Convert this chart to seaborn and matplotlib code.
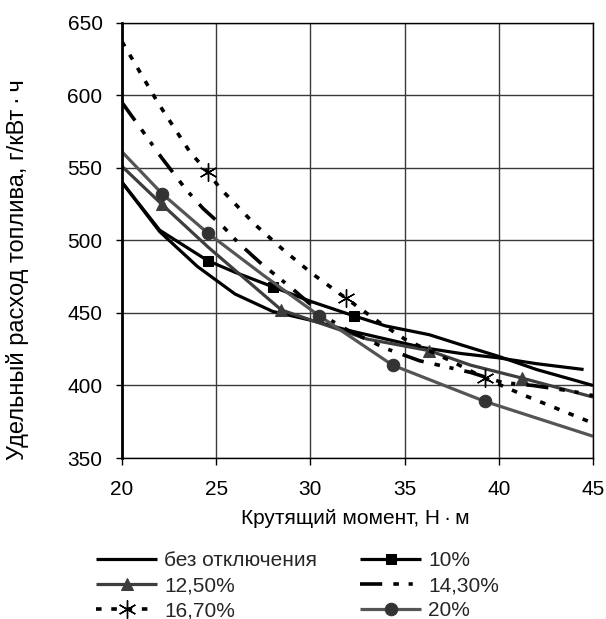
import numpy as np
import pandas as pd
import matplotlib
matplotlib.use("Agg")
import matplotlib.pyplot as plt
import seaborn as sns

# ---- data ----
base_x = [20, 22, 24, 26, 28, 30, 32, 34, 36, 38, 40, 42, 44.5]
base_y = [540, 506, 482, 463, 451, 445, 438, 432, 426, 422, 419, 415, 411]

p10_x = [20, 22, 24.55, 26, 28, 30, 32.3, 34, 36.3, 38, 40, 42, 45]
p10_y = [540, 507, 486, 478, 468, 458, 448, 441, 435, 428, 420, 411, 400]
p10_mk = [24.55, 28, 32.3]

p125_x = [20, 22.1, 24.6, 28.46, 30.5, 33, 36.3, 38.5, 41.25, 45]
p125_y = [551, 525, 495, 452, 443, 432, 424, 414, 405, 392]
p125_mk = [22.1, 28.46, 36.3, 41.25]

p143_x = [20, 21, 22.1, 23.4, 24.3, 25.4, 26.2, 27.3, 29.1, 30.8, 32, 33.1, 34.1, 35.8, 38.5, 40.2, 41.8, 43.9, 45]
p143_y = [595, 577, 557, 535, 522, 509, 498, 485, 466, 447, 438, 431, 425, 417, 409, 402, 400, 396, 393]

p167_x = [20, 21.9, 23.6, 24.55, 25.2, 27.05, 28.6, 30.1, 31.9, 33.6, 35, 37.6, 39.26, 41.2, 43.1, 45]
p167_y = [637, 595, 561, 547, 536, 511, 493, 477, 460, 444, 432, 416, 405, 394, 384, 374]
p167_mk = [24.55, 31.9, 39.26]

p20_x = [20, 22.14, 24.55, 27.5, 30.47, 34.36, 39.26, 45]
p20_y = [561, 532, 505, 476, 448, 414, 389, 365]
p20_mk = [22.14, 24.55, 30.47, 34.36, 39.26]

labels = ["без отключения", "10%", "12,50%", "14,30%", "16,70%", "20%"]
x_ticks = [20, 25, 30, 35, 40, 45]
y_ticks = [350, 400, 450, 500, 550, 600, 650]

# ---- style ----
sns.set_theme(style="white")
plt.rcParams["font.family"] = ["Liberation Sans", "DejaVu Sans"]
plt.rcParams["lines.scale_dashes"] = False
FS = 15

fig = plt.figure(figsize=(6.06, 6.19), dpi=100)
ax = fig.add_axes([122/606, 1-458/619, (593-122)/606, (458-22.7)/619])

def mask(xs, mk):
    return [i for i, v in enumerate(xs) if any(abs(v - m) < 1e-9 for m in mk)]

series = [
    (base_x, base_y, None, dict(color="black", lw=2.3, linestyle="-")),
    (p10_x, p10_y, p10_mk, dict(color="black", lw=2.3, linestyle="-", marker="s",
                                markersize=7.5, markerfacecolor="black", markeredgecolor="black")),
    (p125_x, p125_y, p125_mk, dict(color="#3d3d3d", lw=2.3, linestyle="-", marker="^",
                                   markersize=8, markerfacecolor="#3d3d3d", markeredgecolor="#3d3d3d")),
    (p143_x, p143_y, None, dict(color="black", lw=2.6, linestyle=(0, (16, 8, 4, 7, 3, 8)))),
    (p167_x, p167_y, p167_mk, dict(color="black", lw=2.6, linestyle=(0, (4, 7)), marker=(6, 2, 0),
                                   markersize=13, markeredgewidth=1.0, markerfacecolor="black",
                                   markeredgecolor="black")),
    (p20_x, p20_y, p20_mk, dict(color="#555555", lw=2.3, linestyle="-", marker="o",
                                markersize=9, markerfacecolor="#333333", markeredgecolor="#333333")),
]

for (xs, ys, mk, kw), lab in zip(series, labels):
    df = pd.DataFrame({"x": xs, "y": ys})
    extra = {}
    if mk is not None:
        extra["markevery"] = mask(xs, mk)
    sns.lineplot(data=df, x="x", y="y", ax=ax, label=lab, errorbar=None, sort=True,
                 solid_capstyle="butt", dash_capstyle="butt", **kw, **extra)

ax.set_xlim(20, 45)
ax.set_ylim(350, 650)
ax.set_xticks(x_ticks)
ax.set_yticks(y_ticks)
ax.grid(True, color="#3a3a3a", lw=1.0)
ax.set_axisbelow(True)
for s in ax.spines.values():
    s.set_color("black")
    s.set_linewidth(1.0)
ax.spines["left"].set_linewidth(2.0)
ax.tick_params(axis="both", labelsize=FS, colors="black", direction="out", width=1,
               left=True, bottom=True)
ax.tick_params(axis="y", pad=10, length=4)
ax.tick_params(axis="x", pad=11, length=5)

ax.set_xlabel("Крутящий момент, Н\u2009·\u2009м", fontsize=FS, color="black")
ax.set_ylabel("Удельный расход топлива, г/кВт\u2009·\u2009ч", fontsize=17, color="black")
ax.xaxis.set_label_coords(0.495, -0.117)
ax.yaxis.set_label_coords(-0.197, 0.432)

ax.get_legend().remove()
h, l = ax.get_legend_handles_labels()
order = [0, 2, 4, 1, 3, 5]
leg = fig.legend([h[i] for i in order], [l[i] for i in order], ncol=2, loc="upper left",
                 bbox_to_anchor=(96/606, 1-551/619),
                 frameon=False, fontsize=FS, handlelength=2.93, handletextpad=0.34,
                 columnspacing=2.06, labelspacing=0.3, borderpad=0, borderaxespad=0)

fig.savefig("out.png", dpi=100, facecolor="white")
